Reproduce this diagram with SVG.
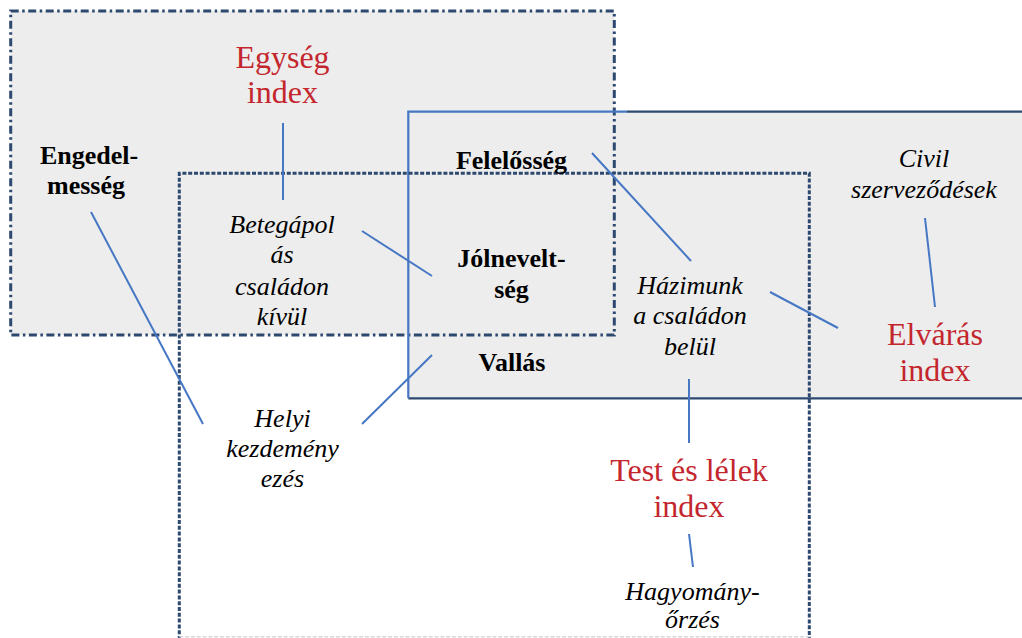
<svg xmlns="http://www.w3.org/2000/svg" width="1022" height="638" viewBox="0 0 1022 638">
<style>
.fill{fill:#ecedec;stroke:none}
.navy{stroke:#2e4970;fill:none}
.dd{stroke-width:3;stroke-dasharray:8 3.5 2.5 3.5}
.ds{stroke-width:3;stroke-dasharray:4 1.8}
.sol{stroke-width:2.2}
.bl{stroke:#4677c4;stroke-width:2;fill:none}
text{font-family:'Liberation Serif','Times New Roman',Times,serif;text-anchor:middle}
.b{font-size:26px;font-weight:bold;fill:#000}
.i{font-size:26px;font-style:italic;fill:#000}
.r{font-size:32px;fill:#c4262e}
</style>
<rect width="1022" height="638" fill="#ffffff"/>
<g id="fills">
<rect class="fill" x="10.7" y="11" width="603.6" height="324"/>
<rect class="fill" x="408.3" y="111.7" width="620" height="286.6"/>
</g>
<g id="frames">
<rect id="frameA" class="navy dd" x="10.7" y="11" width="603.6" height="324"/>
<g id="frameB">
<path class="navy sol" d="M627 111.7 H1030 M408.3 398.3 H1030" stroke="#34507a"/>
<path class="bl" style="stroke-width:2.2" d="M408.3 398.3 V111.7 H627"/>
</g>
<g id="frameC">
<path class="navy ds" d="M179.3 640 V173.3 H809.3 V640"/>
<path d="M179.3 636.7 H809.3" stroke="#d6d8db" stroke-width="1.5" stroke-dasharray="4 1.8" fill="none"/>
</g>
</g>
<g id="connectors">
<line class="bl" x1="283" y1="123" x2="283" y2="200"/>
<line class="bl" x1="91" y1="212" x2="203" y2="424"/>
<line class="bl" x1="362" y1="231" x2="432" y2="276"/>
<line class="bl" x1="362" y1="424" x2="432" y2="355"/>
<line class="bl" x1="592" y1="153" x2="691" y2="261"/>
<line class="bl" x1="770" y1="292" x2="838" y2="328"/>
<line class="bl" x1="925" y1="218" x2="935" y2="307"/>
<line class="bl" x1="689" y1="379" x2="689" y2="443"/>
<line class="bl" x1="689" y1="534" x2="693" y2="567"/>
</g>
<g id="egyseg"><text class="r" x="282.5" y="67.5">Egység</text><text class="r" x="282.5" y="103">index</text></g>
<g id="engedelmesseg"><text class="b" x="89" y="164">Engedel-</text><text class="b" x="86" y="194">messég</text></g>
<g id="felelosseg"><text class="b" x="511.5" y="169">Felelősség</text></g>
<g id="civil"><text class="i" x="924" y="167">Civil</text><text class="i" x="924" y="198">szerveződések</text></g>
<g id="betegapolas"><text class="i" x="282" y="233">Betegápol</text><text class="i" x="282" y="263">ás</text><text class="i" x="282" y="295">családon</text><text class="i" x="282" y="325">kívül</text></g>
<g id="jolneveltseg"><text class="b" x="511.5" y="267">Jólnevelt-</text><text class="b" x="511.5" y="298">ség</text></g>
<g id="hazimunka"><text class="i" x="690" y="294">Házimunk</text><text class="i" x="690" y="324">a családon</text><text class="i" x="690" y="355">belül</text></g>
<g id="vallas"><text class="b" x="512" y="371">Vallás</text></g>
<g id="elvaras"><text class="r" x="935" y="345">Elvárás</text><text class="r" x="935" y="381">index</text></g>
<g id="helyi"><text class="i" x="282.5" y="427">Helyi</text><text class="i" x="282.5" y="457">kezdemény</text><text class="i" x="282.5" y="487">ezés</text></g>
<g id="testlelek"><text class="r" x="689" y="481">Test és lélek</text><text class="r" x="689" y="517">index</text></g>
<g id="hagyomany"><text class="i" x="692.5" y="600">Hagyomány-</text><text class="i" x="692.5" y="628">őrzés</text></g>
</svg>
